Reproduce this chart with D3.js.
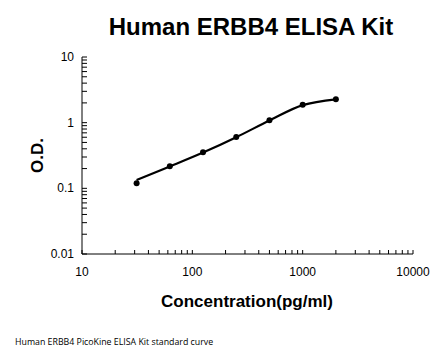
<!DOCTYPE html>
<html>
<head>
<meta charset="utf-8">
<script src="https://cdn.jsdelivr.net/npm/d3@7"></script>
<style>
  body { margin: 0; background: #fff; }
  text { font-family: "Liberation Sans", Arial, sans-serif; }
</style>
</head>
<body>
<div id="chart"></div>
<script>
// standard points
const conc = [31.25, 62.5, 125, 250, 500, 1000, 2000];
const od = [0.12, 0.217, 0.354, 0.605, 1.09, 1.88, 2.27];
// fitted curve
const fitOD = [0.134, 0.215, 0.35, 0.6, 1.08, 1.85, 2.27];

const xTicks = [10, 100, 1000, 10000];
const yTicks = [0.01, 0.1, 1, 10];

const width = 446, height = 356;
const margin = { left: 82, right: 33, top: 57, bottom: 102 };

const svg = d3.select('#chart').append('svg')
  .attr('width', width).attr('height', height);

const x = d3.scaleLog().domain([10, 10000]).range([margin.left, width - margin.right]);
const y = d3.scaleLog().domain([0.01, 10]).range([height - margin.bottom, margin.top]);

// minor ticks 1..9 each decade
const minor = (dom) => {
  const out = [];
  for (let e = Math.log10(dom[0]); e < Math.log10(dom[1]); e++) {
    for (let k = 1; k < 10; k++) out.push(k * Math.pow(10, e));
  }
  out.push(dom[1]);
  return out;
};

// x axis
const xg = svg.append('g').attr('transform', `translate(0,${y(0.01)})`);
xg.append('line').attr('x1', x(10)).attr('x2', x(10000)).attr('stroke', '#000');
xg.selectAll('.xt').data(minor([10, 10000])).enter().append('line')
  .attr('x1', (d) => x(d)).attr('x2', (d) => x(d))
  .attr('y1', 0).attr('y2', -4).attr('stroke', '#000');
xg.selectAll('.xl').data(xTicks).enter().append('text')
  .attr('x', (d) => x(d)).attr('y', 22)
  .attr('text-anchor', 'middle').attr('font-size', 12)
  .text((d) => d);

// y axis
const yg = svg.append('g').attr('transform', `translate(${x(10)},0)`);
yg.append('line').attr('y1', y(0.01)).attr('y2', y(10)).attr('stroke', '#000');
yg.selectAll('.yt').data(minor([0.01, 10])).enter().append('line')
  .attr('y1', (d) => y(d)).attr('y2', (d) => y(d))
  .attr('x1', 0).attr('x2', 5).attr('stroke', '#000');
yg.selectAll('.yl').data(yTicks).enter().append('text')
  .attr('x', -8).attr('y', (d) => y(d) + 4)
  .attr('text-anchor', 'end').attr('font-size', 12)
  .text((d) => d);

// curve
const line = d3.line()
  .x((d, i) => x(conc[i]))
  .y((d) => y(d))
  .curve(d3.curveCatmullRom);
svg.append('path').datum(fitOD)
  .attr('d', line).attr('fill', 'none')
  .attr('stroke', '#000').attr('stroke-width', 2.2);

// points
svg.selectAll('.pt').data(od).enter().append('circle')
  .attr('cx', (d, i) => x(conc[i])).attr('cy', (d) => y(d))
  .attr('r', 3).attr('fill', '#000');

// titles
svg.append('text').attr('x', 251).attr('y', 35)
  .attr('text-anchor', 'middle').attr('font-size', 24).attr('font-weight', 'bold')
  .text('Human ERBB4 ELISA Kit');

svg.append('text').attr('x', 247).attr('y', 307)
  .attr('text-anchor', 'middle').attr('font-size', 17).attr('font-weight', 'bold')
  .text('Concentration(pg/ml)');

svg.append('text')
  .attr('transform', `translate(43,${(y(0.01) + y(10)) / 2}) rotate(-90)`)
  .attr('text-anchor', 'middle').attr('font-size', 17).attr('font-weight', 'bold')
  .text('O.D.');

svg.append('text').attr('x', 15).attr('y', 345)
  .attr('font-size', 8.8).style('font-family', '"Open Sans", sans-serif')
  .text('Human ERBB4 PicoKine ELISA Kit standard curve');
</script>
</body>
</html>
